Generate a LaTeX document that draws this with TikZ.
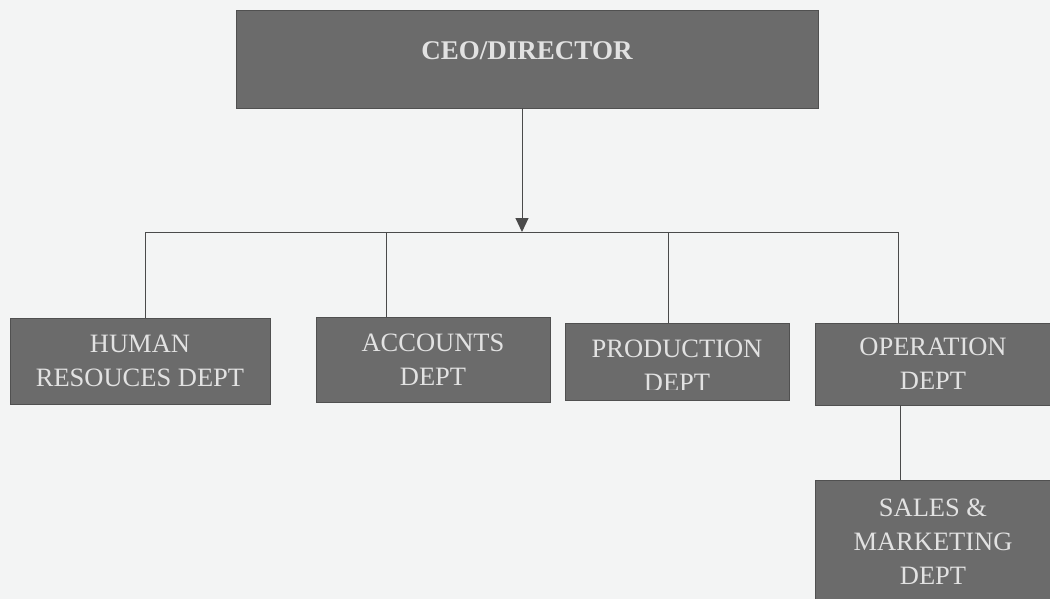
\documentclass[tikz,border=0pt]{standalone}
\usepackage{fontspec}
\setmainfont{Liberation Serif}
\usetikzlibrary{arrows.meta}
\definecolor{boxgray}{HTML}{6B6B6B}
\definecolor{boxedge}{HTML}{505050}
\definecolor{boxtext}{HTML}{E2E2E2}
\definecolor{paper}{HTML}{F3F4F4}
\definecolor{wire}{HTML}{4A4A4A}
\tikzset{
  dept/.style={draw=boxedge, fill=boxgray, text=boxtext, align=center,
    inner sep=0pt, font=\fontsize{26.5}{34}\selectfont},
  link/.style={draw=wire, line width=1pt}
}

\begin{document}
\begin{tikzpicture}[x=1pt,y=-1pt]
\fill[paper] (0,0) rectangle (1050,599);
\clip (0,0) rectangle (1050,599);
% boxes
\node[dept, minimum width=582, minimum height=98] (ceo) at (527,59) {};
\node[text=boxtext, font=\bfseries\fontsize{27}{30}\selectfont] (ceotext) at (527,51) {CEO/DIRECTOR};
\node[dept, minimum width=260, minimum height=86] (hr) at (140,361) {HUMAN\\RESOUCES DEPT};
\node[dept, minimum width=234, minimum height=85] (acc) at (433,360) {ACCOUNTS\\DEPT};
\node[dept, minimum width=224, minimum height=77] (prod) at (677,361.5) {};
\begin{scope}
\clip (prod.north west) rectangle (prod.east |- 0,389);
\node[text=boxtext, align=center, font=\fontsize{26.5}{34}\selectfont] (prodtext) at (677,365.5) {PRODUCTION\\DEPT};
\end{scope}
\node[dept, minimum width=236, minimum height=82] (op) at (933,364) {OPERATION\\DEPT};
\node[dept, minimum width=236, minimum height=124] (sales) at (933,542) {SALES \&\\MARKETING\\DEPT};
% connectors
\coordinate (split) at (522,232);
\coordinate (busl) at (145,232);
\coordinate (busa) at (386,232);
\coordinate (busp) at (668,232);
\coordinate (busr) at (898,232);
\draw[link, -{Triangle[width=13pt,length=14pt]}] (ceo.south -| split) -- (split);
\draw[link] (busl) -- (busr);
\draw[link] (busl) -- (busl |- hr.north);
\draw[link] (busa) -- (busa |- acc.north);
\draw[link] (busp) -- (busp |- prod.north);
\draw[link] (busr) -- (busr |- op.north);
\draw[link] ([xshift=-33pt]op.south) -- ([xshift=-33pt]sales.north);
\end{tikzpicture}
\end{document}
